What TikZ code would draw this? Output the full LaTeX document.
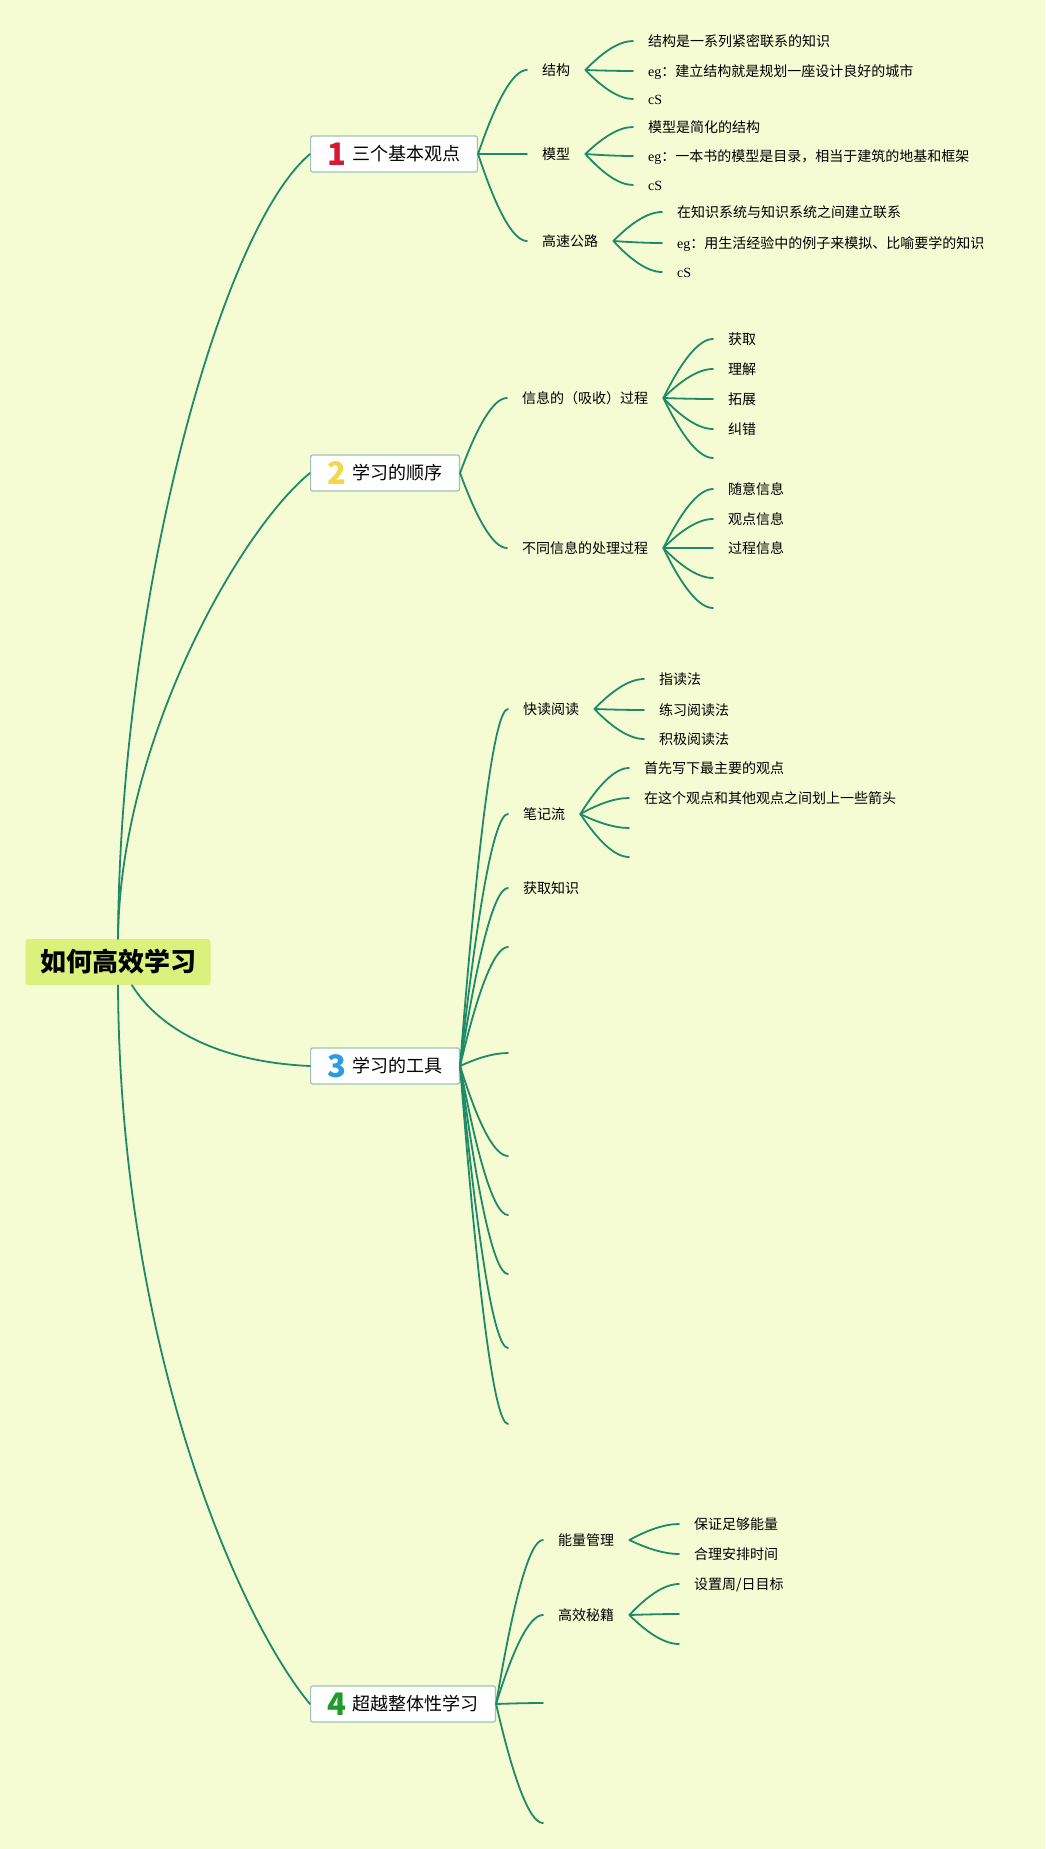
\documentclass[tikz,border=0pt]{standalone}
\usepackage{fontspec}
\setmainfont{Noto Sans CJK SC}
\newfontfamily\lat{Liberation Serif}
\usetikzlibrary{calc}
\definecolor{bg}{HTML}{F5FBD3}
\definecolor{lc}{HTML}{1F8A67}
\definecolor{rootc}{HTML}{DCF07C}
\definecolor{bord}{HTML}{9FC3B2}
\definecolor{nred}{HTML}{D71A33}
\definecolor{nyel}{HTML}{F3D64A}
\definecolor{nblu}{HTML}{2C9BDF}
\definecolor{ngrn}{HTML}{1F9B2C}
\tikzset{
  ln/.style={draw=lc, line width=1.8pt, line cap=round},
  rootbox/.style={fill=rootc, rounded corners=3pt, minimum width=185pt, minimum height=46pt, inner sep=0pt,
    font=\fontsize{26}{26}\selectfont\bfseries},
  tbox/.style={draw=bord, line width=1.2pt, fill=white, rounded corners=2pt, minimum height=36pt,
    inner xsep=17pt, inner ysep=0pt, anchor=west, text height=15.8pt, text depth=2.2pt,
    font=\fontsize{18}{18}\selectfont},
  txt/.style={anchor=west, inner xsep=15pt, inner ysep=0pt, text height=12.3pt, text depth=1.7pt,
    font=\fontsize{14}{14}\selectfont}
}
\newcommand\numtag[2]{\raisebox{-4.7pt}{\fontsize{31}{31}\selectfont\bfseries\color{#1}#2}\hspace{6pt}}
\newcommand\brc[2]{\draw[ln] let \p1=(#1), \p2=(#2) in (\p1) .. controls ({\x1+0.35*((\x2)-(\x1))},{\y1+0.6*((\y2)-(\y1))}) and ({\x1+0.7*((\x2)-(\x1))},\y2) .. (\p2);}
\begin{document}
\begin{tikzpicture}[x=1pt,y=-1pt]
\fill[bg] (0,0) rectangle (1045,1849);
\useasboundingbox (0,0) rectangle (1045,1849);

% root
\node[rootbox] (root) at (118,962) {如何高效学习};

% topics
\node[tbox] (t1) at (310,154) {\numtag{nred}{1}三个基本观点};
\node[tbox] (t2) at (310,473) {\numtag{nyel}{2}学习的顺序};
\node[tbox] (t3) at (310,1066) {\numtag{nblu}{3}学习的工具};
\node[tbox] (t4) at (310,1704) {\numtag{ngrn}{4}超越整体性学习};

\draw[ln] (root.north) .. controls (120,600) and (220,230) .. (t1.west);
\draw[ln] (root.north) .. controls (120,740) and (240,530) .. (t2.west);
\draw[ln] (root.-59) .. controls (160,1030) and (220,1062) .. (t3.west);
\draw[ln] (root.south) .. controls (120,1350) and (240,1620) .. (t4.west);

% ---- topic 1
\node[txt] (c11) at (527,70) {结构};
\node[txt] (c12) at (527,154) {模型};
\node[txt] (c13) at (527,241) {高速公路};
\foreach \c in {c11,c12,c13} {\brc{t1.east}{\c.west}}

\node[txt] (l111) at (633,41) {结构是一系列紧密联系的知识};
\node[txt] (l112) at (633,71) {{\lat eg}：建立结构就是规划一座设计良好的城市};
\node[txt] (l113) at (633,99) {\lat cS};
\foreach \c in {l111,l112,l113} {\brc{c11.east}{\c.west}}

\node[txt] (l121) at (633,127) {模型是简化的结构};
\node[txt] (l122) at (633,156) {{\lat eg}：一本书的模型是目录，相当于建筑的地基和框架};
\node[txt] (l123) at (633,185) {\lat cS};
\foreach \c in {l121,l122,l123} {\brc{c12.east}{\c.west}}

\node[txt] (l131) at (662,212) {在知识系统与知识系统之间建立联系};
\node[txt] (l132) at (662,243) {{\lat eg}：用生活经验中的例子来模拟、比喻要学的知识};
\node[txt] (l133) at (662,272) {\lat cS};
\foreach \c in {l131,l132,l133} {\brc{c13.east}{\c.west}}

% ---- topic 2
\node[txt] (c21) at (507,398) {信息的（吸收）过程};
\node[txt] (c22) at (507,548) {不同信息的处理过程};
\foreach \c in {c21,c22} {\brc{t2.east}{\c.west}}

\node[txt] (l211) at (713,339) {获取};
\node[txt] (l212) at (713,369) {理解};
\node[txt] (l213) at (713,399) {拓展};
\node[txt] (l214) at (713,429) {纠错};
\coordinate (l215) at (713,458);
\foreach \c in {l211,l212,l213,l214} {\brc{c21.east}{\c.west}}
\brc{c21.east}{l215}

\node[txt] (l221) at (713,489) {随意信息};
\node[txt] (l222) at (713,519) {观点信息};
\node[txt] (l223) at (713,548) {过程信息};
\coordinate (l224) at (713,578);
\coordinate (l225) at (713,608);
\foreach \c in {l221,l222,l223} {\brc{c22.east}{\c.west}}
\brc{c22.east}{l224}
\brc{c22.east}{l225}

% ---- topic 3
\node[txt] (c31) at (508,709) {快读阅读};
\node[txt] (c32) at (508,814) {笔记流};
\node[txt] (c33) at (508,888) {获取知识};
\foreach \c in {c31,c32,c33} {\brc{t3.east}{\c.west}}
\coordinate (e31) at (508,947);
\coordinate (e32) at (508,1053);
\coordinate (e33) at (508,1156);
\coordinate (e34) at (508,1215);
\coordinate (e35) at (508,1274);
\coordinate (e36) at (508,1348);
\coordinate (e37) at (508,1424);
\foreach \c in {e31,e32,e33,e34,e35,e36,e37} {\brc{t3.east}{\c}}

\node[txt] (l311) at (644,679) {指读法};
\node[txt] (l312) at (644,710) {练习阅读法};
\node[txt] (l313) at (644,739) {积极阅读法};
\foreach \c in {l311,l312,l313} {\brc{c31.east}{\c.west}}

\node[txt] (l321) at (629,768) {首先写下最主要的观点};
\node[txt] (l322) at (629,798) {在这个观点和其他观点之间划上一些箭头};
\coordinate (l323) at (629,828);
\coordinate (l324) at (629,857);
\foreach \c in {l321,l322} {\brc{c32.east}{\c.west}}
\brc{c32.east}{l323}
\brc{c32.east}{l324}

% ---- topic 4
\node[txt] (c41) at (543,1540) {能量管理};
\node[txt] (c42) at (543,1615) {高效秘籍};
\coordinate (e41) at (543,1703);
\coordinate (e42) at (543,1823);
\foreach \c in {c41,c42} {\brc{t4.east}{\c.west}}
\brc{t4.east}{e41}
\brc{t4.east}{e42}

\node[txt] (l411) at (679,1524) {保证足够能量};
\node[txt] (l412) at (679,1554) {合理安排时间};
\foreach \c in {l411,l412} {\brc{c41.east}{\c.west}}

\node[txt] (l421) at (679,1584) {设置周/日目标};
\coordinate (l422) at (679,1614);
\coordinate (l423) at (679,1644);
\brc{c42.east}{l421.west}
\brc{c42.east}{l422}
\brc{c42.east}{l423}
\end{tikzpicture}
\end{document}
